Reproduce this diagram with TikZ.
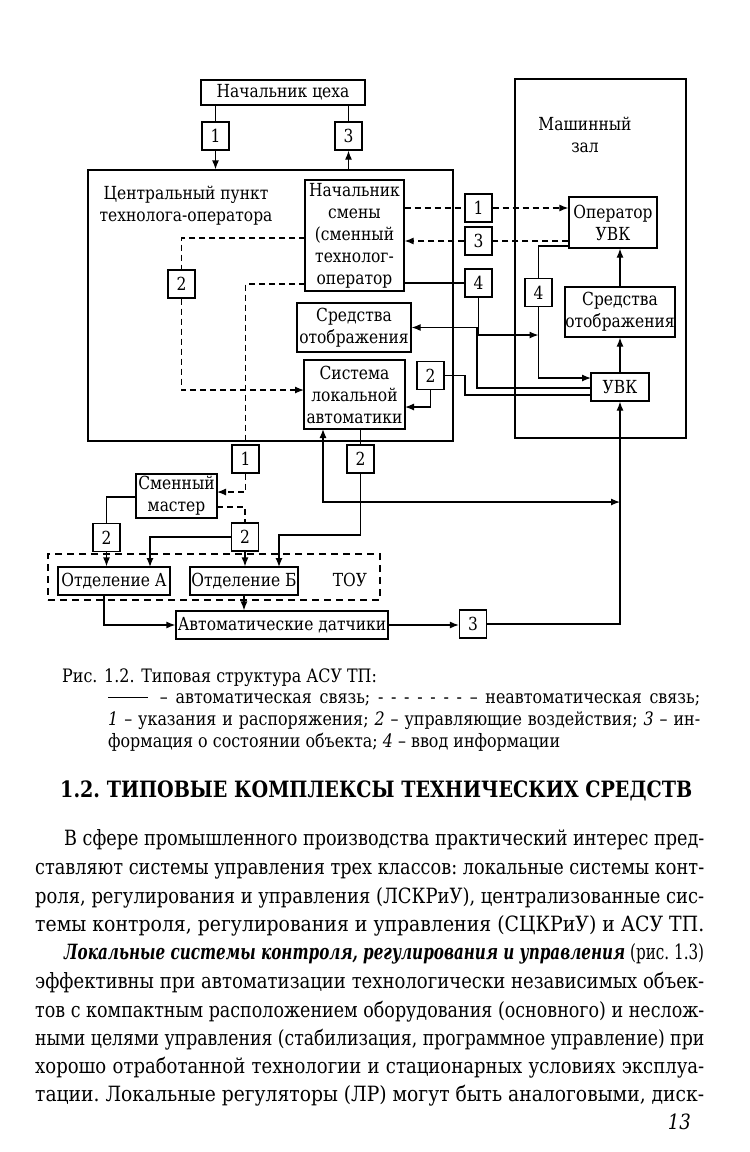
\documentclass[tikz,border=0pt]{standalone}
\usepackage{fontspec}
\usepackage{graphicx}
\setmainfont{DejaVu Serif}[FakeStretch=0.86]
\usetikzlibrary{arrows.meta}
\newcommand\dfont{\fontsize{18}{22}\selectfont}
\newcommand\cfont{\fontsize{18.5}{22}\selectfont}
\newcommand\bfont{\fontsize{21}{28}\selectfont}
\newsavebox\jbox
\newcommand\jline[2]{%
  \sbox\jbox{\frenchspacing #2}%
  \ifdim\wd\jbox>#1\relax
    \resizebox{#1}{\height}{\usebox\jbox}%
  \else
    \hbox to #1{\frenchspacing\spaceskip=.3em plus 1fil\relax #2}%
  \fi}
\newcommand\sline[2]{\resizebox{#1}{\height}{\frenchspacing #2}}
\begin{document}
\begin{tikzpicture}[x=1pt,y=-1pt,
  box/.style={draw, line width=1.25pt, inner sep=0pt, align=center, font=\dfont},
  num/.style={box, minimum width=27pt, minimum height=28pt},
  ln/.style={line width=1.25pt},
  arr/.style={ln, -{Latex[length=9pt,width=7pt]}},
  dsh/.style={ln, dash pattern=on 6pt off 4pt},
  darr/.style={dsh, -{Latex[length=9pt,width=7pt]}},
  txt/.style={inner sep=0pt, align=center, font=\dfont},
  tl/.style={anchor=base west, inner sep=0pt, font=\bfont},
  cl/.style={anchor=base west, inner sep=0pt, font=\cfont},
]
\useasboundingbox (0,0) rectangle (750,1152);
\fill[white] (0,0) rectangle (750,1152);

% ---------- nodes ----------
\node[box, minimum width=164pt, minimum height=25pt] (nc) at (283,92.5) {Начальник цеха};
\node[num] (b1t) at (215.5,136) {1};
\node[num] (b3t) at (348.5,136) {3};
\node[box, minimum width=365pt, minimum height=271pt] (cp) at (270.5,305.5) {};
\node[txt] (cpl) at (186,206) {Центральный пункт\\технолога-оператора};
\node[box, minimum width=99pt, minimum height=111pt] (ns) at (354.5,235.5) {Начальник\\смены\\(сменный\\технолог-\\оператор};
\node[num] (b2a) at (181.5,284) {2};
\node[box, minimum width=114pt, minimum height=49pt] (so1) at (354,327.5) {Средства\\отображения};
\node[box, minimum width=101pt, minimum height=69pt] (sla) at (354.5,394.5) {Система\\локальной\\автоматики};
\node[num] (b2b) at (430.5,375.5) {2};
\node[num] (b1m) at (478.5,208) {1};
\node[num] (b3m) at (478.5,241) {3};
\node[num] (b4m) at (478.5,283) {4};
\node[box, minimum width=171pt, minimum height=359pt] (mz) at (600.5,258.5) {};
\node[txt] (mzl) at (585,135) {Машинный\\зал};
\node[box, minimum width=88pt, minimum height=51pt] (op) at (613,222.5) {Оператор\\УВК};
\node[box, minimum width=110pt, minimum height=50pt] (so2) at (620,312) {Средства\\отображения};
\node[box, minimum width=58pt, minimum height=28pt] (uvk) at (620,387) {УВК};
\node[num] (b4r) at (538.5,292.5) {4};
\node[num] (b1l) at (245.5,459) {1};
\node[num] (b2l) at (360.5,459) {2};
\node[box, minimum width=81pt, minimum height=44pt] (sm) at (176.5,496) {Сменный\\мастер};
\node[num] (b2sa) at (106.5,537.5) {2};
\node[num] (b2sb) at (245,537) {2};
\node[draw, line width=1.25pt, dash pattern=on 7pt off 5pt, minimum width=332pt, minimum height=46pt] (tou) at (214,577) {};
\node[box, minimum width=112pt, minimum height=28pt] (oa) at (114,581) {Отделение А};
\node[box, minimum width=108pt, minimum height=28pt] (ob) at (244,581) {Отделение Б};
\node[txt] (toul) at (350,580) {ТОУ};
\node[box, minimum width=212pt, minimum height=28pt] (ad) at (282,625) {Автоматические датчики};
\node[num] (b3l) at (473,624) {3};

% ---------- helper coordinates ----------
\coordinate (j4) at (538.5,335);
\coordinate (opl) at (569,246);
\coordinate (uv1) at (591,378);
\coordinate (uv2) at (591,388);
\coordinate (k2) at (477,388);
\coordinate (uv3) at (591,395);
\coordinate (k3) at (465,395);
\coordinate (sla2) at (405,407);
\coordinate (nsl1) at (305,238);
\coordinate (slal) at (304,390);
\coordinate (nsl2) at (305,284);
\coordinate (sme1) at (217,492);
\coordinate (sme2) at (217,507);
\coordinate (oat) at (150,567);
\coordinate (smw) at (136,497);
\coordinate (k5) at (360.5,535);
\coordinate (obt) at (279,567);
\coordinate (oab) at (104,595);
\coordinate (slab) at (323,429);
\coordinate (k6) at (323,502);
\coordinate (k7) at (620,502);

% ---------- connectors ----------
\draw[ln] (b1t.north |- nc.south) -- (b1t.north);
\draw[arr] (b1t.south) -- (b1t.south |- cp.north);
\draw[arr] (b3t.south |- cp.north) -- (b3t.south);
\draw[ln] (b3t.north) -- (b3t.north |- nc.south);

\draw[dsh] (ns.east |- b1m.west) -- (b1m.west);
\draw[darr] (b1m.east) -- (op.west |- b1m.east);
\draw[dsh] (op.west |- b3m.east) -- (b3m.east);
\draw[darr] (b3m.west) -- (ns.east |- b3m.west);
\draw[ln] (ns.east |- b4m.west) -- (b4m.west);
\draw[arr] (b4m.south) |- (j4);
\draw[ln] (opl) -| (b4r.north);
\draw[arr] (b4r.south) |- (uv1);
\draw[arr] (uv2) -- (k2) |- (so1.east);
\draw[ln] (b2b.east) -| (k3) -- (uv3);
\draw[arr] (b2b.south) |- (sla2);

\draw[dsh] (nsl1) -| (b2a.north);
\draw[darr] (b2a.south) |- (slal);
\draw[dsh] (nsl2) -| (b1l.north);
\draw[darr] (b1l.south) |- (sme1);
\draw[dsh] (sme2) -| (b2sb.north);
\draw[arr] (b2sb.south) -- (b2sb.south |- ob.north);
\draw[arr] (b2sb.west) -| (oat);
\draw[ln] (smw) -| (b2sa.north);
\draw[arr] (b2sa.south) -- (b2sa.south |- oa.north);

\draw[ln] (b2l.north |- sla.south) -- (b2l.north);
\draw[arr] (b2l.south) -- (k5) -| (obt);

\draw[arr] (oab) |- (ad.west);
\draw[arr] (ob.south) -- (ob.south |- ad.north);
\draw[arr] (ad.east) -- (b3l.west |- ad.east);
\draw[arr] (b3l.east) -| (uvk.south);
\draw[ln, {Latex[length=9pt,width=7pt]}-{Latex[length=9pt,width=7pt]}] (slab) -- (k6) -- (k7);

\draw[arr] (uvk.north) -- (uvk.north |- so2.south);
\draw[arr] (so2.north) -- (so2.north |- op.south);

% ---------- caption ----------
\node[cl] (cap1) at (62,682) {Рис. 1.2. Типовая структура АСУ ТП:};
\node[cl] (cap2) at (108,703) {\jline{592pt}{\rule[.3em]{40pt}{.6pt}\hspace{4pt} – автоматическая связь; - - - - - - - – неавтоматическая связь;}};
\node[cl] (cap3) at (108,725) {\jline{592pt}{\textit{1} – указания и распоряжения; \textit{2} – управляющие воздействия; \textit{3} – ин-}};
\node[cl] (cap4) at (108,747) {формация о состоянии объекта; \textit{4} – ввод информации};

% ---------- heading ----------
\node[tl, font=\fontsize{22.5}{28}\selectfont\bfseries] (hd) at (60,797) {\jline{632pt}{1.2. ТИПОВЫЕ КОМПЛЕКСЫ ТЕХНИЧЕСКИХ СРЕДСТВ}};

% ---------- body ----------
\node[tl] (t1) at (64,845) {\jline{640pt}{В сфере промышленного производства практический интерес пред-}};
\node[tl] (t2) at (35,874) {\jline{669pt}{ставляют системы управления трех классов: локальные системы конт-}};
\node[tl] (t3) at (35,903) {\jline{669pt}{роля, регулирования и управления (ЛСКРиУ), централизованные сис-}};
\node[tl] (t4) at (35,931) {\sline{669pt}{темы контроля, регулирования и управления (СЦКРиУ) и АСУ ТП.}};
\node[tl] (t5) at (64,959) {\jline{640pt}{\textbf{\textit{Локальные системы контроля, регулирования и управления}} (рис. 1.3)}};
\node[tl] (t6) at (35,988) {\jline{669pt}{эффективны при автоматизации технологически независимых объек-}};
\node[tl] (t7) at (35,1017) {\jline{669pt}{тов с компактным расположением оборудования (основного) и неслож-}};
\node[tl] (t8) at (35,1045) {\jline{669pt}{ными целями управления (стабилизация, программное управление) при}};
\node[tl] (t9) at (35,1073) {\jline{669pt}{хорошо отработанной технологии и стационарных условиях эксплуа-}};
\node[tl] (t10) at (35,1101) {\sline{669pt}{тации. Локальные регуляторы (ЛР) могут быть аналоговыми, диск-}};
\node[anchor=base east, inner sep=0pt, font=\bfont\itshape] (pg) at (691,1129) {13};
\end{tikzpicture}
\end{document}
